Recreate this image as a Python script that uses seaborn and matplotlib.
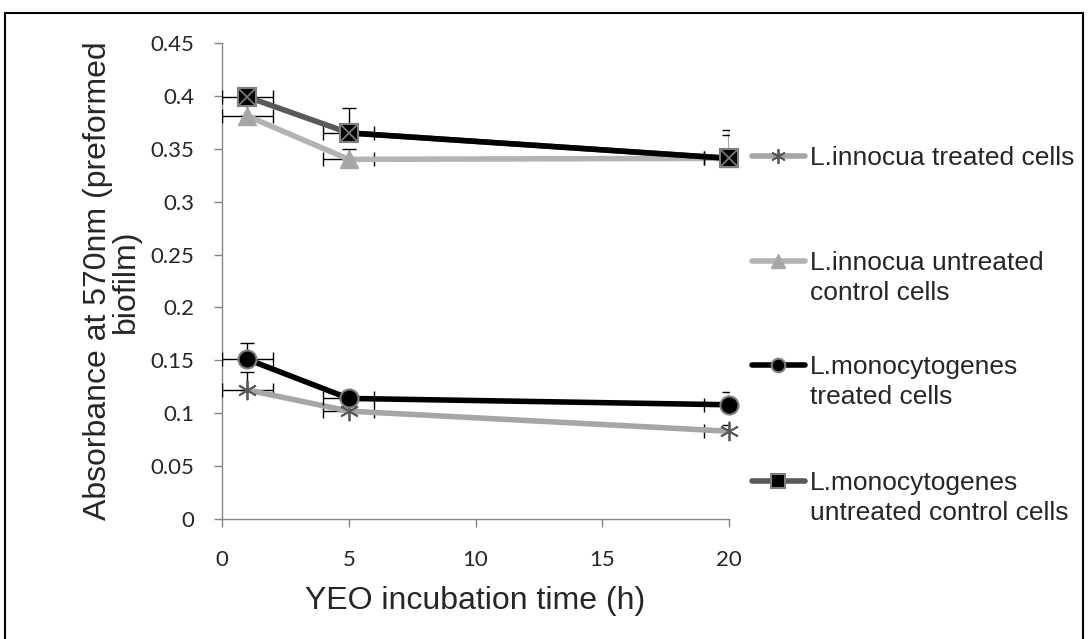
import matplotlib
matplotlib.use("Agg")
import matplotlib.pyplot as plt
import seaborn as sns
import pandas as pd
import numpy as np
from matplotlib.lines import Line2D
from matplotlib.patches import Rectangle

sns.set_style("white")
plt.rcParams['font.family'] = ['Liberation Sans', 'DejaVu Sans']

# ---- data ----
time_h = [1, 5, 20]
time_err = [1, 1, 1]
innocua_treated = [0.122, 0.102, 0.083]
innocua_treated_err = [0.017, 0.005, 0.006]
innocua_untreated = [0.381, 0.340, 0.341]
innocua_untreated_err = [0.012, 0.010, 0.022]
mono_treated = [0.151, 0.114, 0.108]
mono_treated_err = [0.015, 0.004, 0.012]
mono_untreated = [0.399, 0.365, 0.341]
mono_untreated_err = [0.005, 0.024, 0.027]

labels = ["L.innocua treated cells",
          "L.innocua untreated\ncontrol cells",
          "L.monocytogenes\ntreated cells",
          "L.monocytogenes\nuntreated control cells"]
x_ticks = [0, 5, 10, 15, 20]
y_ticks = [0, 0.05, 0.1, 0.15, 0.2, 0.25, 0.3, 0.35, 0.4, 0.45]
y_ticklabels = ["0", "0.05", "0.1", "0.15", "0.2", "0.25", "0.3", "0.35", "0.4", "0.45"]

fig = plt.figure(figsize=(10.88, 6.39), dpi=100)
ax = fig.add_axes([222/1088, 1-519/639, (729-222)/1088, (519-43)/639])

star = (6, 2, 0)
series = [
    dict(y=innocua_treated, e=innocua_treated_err, lc="#a6a6a6", m=star, mfc="#595959", mec="#595959", ms=14, mew=1.3),
    dict(y=innocua_untreated, e=innocua_untreated_err, lc="#b3b3b3", m="^", mfc="#a6a6a6", mec="#a6a6a6", ms=13, mew=1),
    dict(y=mono_treated, e=mono_treated_err, lc="#000000", m="o", mfc="#000000", mec="#7f7f7f", ms=13, mew=1.5),
    dict(y=mono_untreated, e=mono_untreated_err, lc="#595959", m="s", mfc="#000000", mec="#7f7f7f", ms=13, mew=1.5),
]

for i, s in enumerate(series):
    z = 3 + i * 3
    df = pd.DataFrame({"t": time_h, "v": s["y"]})
    ax.errorbar(time_h, s["y"], yerr=[[0, 0, 0], s["e"]], xerr=time_err, fmt="none",
                ecolor="black", elinewidth=1, capsize=5, capthick=1, zorder=z)
    sns.lineplot(data=df, x="t", y="v", ax=ax, color=s["lc"], linewidth=4,
                 legend=False, zorder=z + 1)
    if i == 3:
        df2 = pd.DataFrame({"t": time_h[1:], "v": s["y"][1:]})
        sns.lineplot(data=df2, x="t", y="v", ax=ax, color="black", linewidth=4,
                     legend=False, zorder=z + 1)
    ax.plot(time_h, s["y"], linestyle="none", marker=s["m"], markersize=s["ms"],
            markerfacecolor=s["mfc"], markeredgecolor=s["mec"], markeredgewidth=s["mew"],
            zorder=z + 2, clip_on=False)
    if i == 3:
        ax.plot(time_h, s["y"], linestyle="none", marker="x", markersize=12,
                markeredgecolor="#7f7f7f", markeredgewidth=1.2, zorder=z + 2.5, clip_on=False)

ax.set_xlim(0, 20)
ax.set_ylim(0, 0.45)
ax.set_xticks(x_ticks)
ax.set_yticks(y_ticks)
ax.set_yticklabels(y_ticklabels)
for lab in ax.get_xticklabels() + ax.get_yticklabels():
    lab.set_fontfamily("Lato")
    lab.set_fontsize(16)
ax.tick_params(axis="both", direction="out", length=6, width=1, color="#868686",
               left=True, bottom=True)
ax.tick_params(axis="y", pad=14)
ax.tick_params(axis="x", pad=16)
for sp in ["top", "right"]:
    ax.spines[sp].set_visible(False)
for sp in ["left", "bottom"]:
    ax.spines[sp].set_color("#868686")
    ax.spines[sp].set_linewidth(1)
ax.set_xlabel("YEO incubation time (h)", fontsize=23, labelpad=12)
ax.set_ylabel("")
fig.text(112/1088, (1-519/639 + 1-43/639)/2, "Absorbance at 570nm (preformed\nbiofilm)",
         rotation=90, ha="center", va="center", fontsize=23, multialignment="center",
         linespacing=0.95)

# legend entries
leg_y = [158, 263, 367, 483]
for i, s in enumerate(series):
    first, *rest = labels[i].split("\n")
    h = Line2D([0], [0], color=s["lc"], linewidth=4, marker=s["m"], markersize=s["ms"] * 0.75,
               markerfacecolor=s["mfc"], markeredgecolor=s["mec"], markeredgewidth=s["mew"])
    leg = fig.legend([h], [first], loc="center left",
                     bbox_to_anchor=(752/1088, 1 - leg_y[i]/639), frameon=False,
                     fontsize=19, handlelength=2.0, handletextpad=0.2, borderpad=0, borderaxespad=0)
    for k, line in enumerate(rest):
        fig.text(810/1088, 1 - (leg_y[i] + 30 * (k + 1))/639, line, fontsize=19,
                 ha="left", va="center")

fig.patches.append(Rectangle((5/1088, -0.05), 1078/1088, 1.05 - 13/639, transform=fig.transFigure,
                             fill=False, edgecolor="black", linewidth=1.5))

fig.savefig("out.png", dpi=100)
